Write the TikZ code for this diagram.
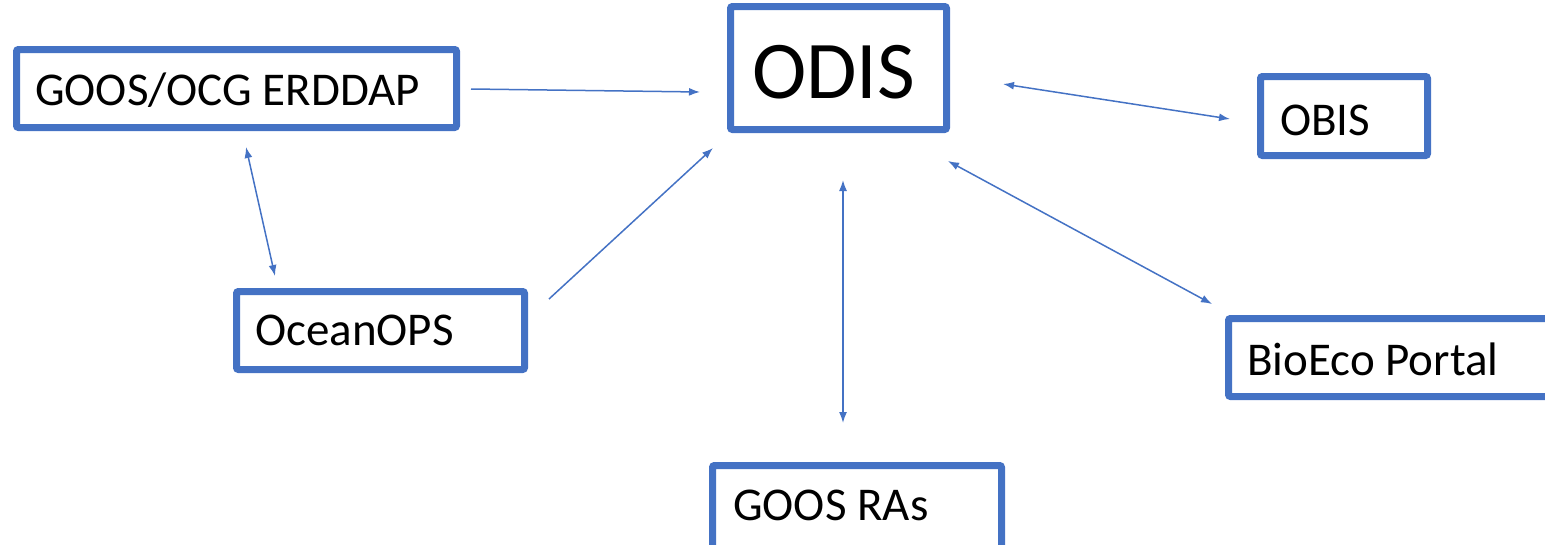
\documentclass[tikz,border=0pt]{standalone}
\usepackage{fontspec}
\setmainfont{Carlito}
\usetikzlibrary{arrows.meta}
\definecolor{boxblue}{HTML}{4472C4}
\tikzset{
  box/.style={draw=boxblue, line width=7pt, rounded corners=2pt, rectangle, inner sep=0pt, fill=white},
  lbl/.style={anchor=base west, inner sep=0pt, font=\fontsize{47}{56}\selectfont},
  big/.style={anchor=base west, inner sep=0pt, font=\fontsize{82}{98}\selectfont},
  conn/.style={draw=boxblue, line width=1.5pt, -{Latex[length=11pt,width=8pt]}},
  conn2/.style={draw=boxblue, line width=1.5pt, {Latex[length=11pt,width=8pt]}-{Latex[length=11pt,width=8pt]}}
}
\begin{document}
\begin{tikzpicture}[x=1pt,y=-1pt]
\useasboundingbox (0,0) rectangle (1545,544);
% boxes
\node[box, minimum width=440pt, minimum height=78pt] (erddap) at (236.5,88.5) {};
\node[box, minimum width=216pt, minimum height=123pt] (odis) at (838.5,68) {};
\node[box, minimum width=167pt, minimum height=79pt] (obis) at (1344,116) {};
\node[box, minimum width=333pt, minimum height=78pt] (bioeco) at (1395,357.5) {};
\node[box, minimum width=289pt, minimum height=91pt] (ras) at (857,511) {};
\node[box, minimum width=288pt, minimum height=78pt] (oceanops) at (380.5,330.5) {};
% texts
\node[lbl] (erddapT) at (35,105) {GOOS/OCG ERDDAP};
\node[big] (odisT) at (752,98) {ODIS};
\node[lbl] (obisT) at (1280,135) {OBIS};
\node[lbl] (bioecoT) at (1247,375) {BioEco Portal};
\node[lbl] (rasT) at (733,520) {GOOS RAs};
\node[lbl] (oceanopsT) at (255,345) {OceanOPS};
% connector ends
\coordinate (e1) at (471,89);   \coordinate (o1) at (700,92);
\coordinate (o2) at (1003,84);  \coordinate (b2) at (1230,119);
\coordinate (o3) at (948,161);  \coordinate (b3) at (1212,304);
\coordinate (o4) at (843,180);  \coordinate (r4) at (843,423);
\coordinate (p5) at (549,299);  \coordinate (o5) at (713,148);
\coordinate (e6) at (246,147);  \coordinate (p6) at (275,276);
% connectors
\draw[conn] (e1) -- (o1);
\draw[conn2] (o2) -- (b2);
\draw[conn2] (o3) -- (b3);
\draw[conn2] (o4) -- (r4);
\draw[conn] (p5) -- (o5);
\draw[conn2] (e6) -- (p6);
\end{tikzpicture}
\end{document}
